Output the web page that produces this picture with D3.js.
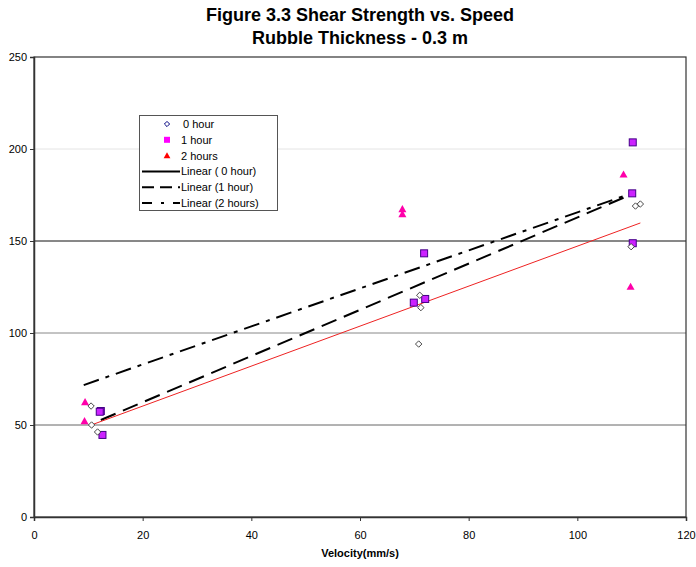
<!DOCTYPE html>
<html>
<head>
<meta charset="utf-8">
<script src="https://cdn.jsdelivr.net/npm/d3@7"></script>
<style>
  body { margin: 0; background: #fff; }
  text { font-family: "Liberation Sans", Arial, sans-serif; }
</style>
</head>
<body>
<svg id="chart"></svg>
<script>
// data
const hour0 = [[10.5, 60.3], [10.6, 50], [11.7, 46.2], [71.0, 120.5], [71.2, 113.8], [70.8, 94],
               [110.7, 169], [111.6, 170.1], [109.9, 146.9]];
const hour1 = [[12.3, 57.6], [12.1, 57.2], [12.6, 44.6], [71.8, 143.3], [69.9, 116.5], [72.0, 118.5],
               [110.2, 203.6], [110.1, 175.9], [110.2, 148.8]];
const hour2 = [[9.4, 62.5], [9.3, 52.2], [67.8, 167.4], [67.8, 164.7], [108.5, 186.2], [109.8, 125.2]];
// linear trend lines (end points)
const trend0 = [[11.0, 50.5], [111.6, 159.8]];
const trend1 = [[12.3, 52.7], [110.1, 175.5]];
const trend2 = [[9.15, 71.7], [110.1, 176.0]];
const xTicks = [0, 20, 40, 60, 80, 100, 120];
const yTicks = [0, 50, 100, 150, 200, 250];

const width = 696, height = 567;
const svg = d3.select("#chart").attr("width", width).attr("height", height);

const xScale = d3.scaleLinear().domain([0, 120]).range([34, 686]);
const yScale = d3.scaleLinear().domain([0, 250]).range([517, 57]);

// title
svg.append("text").attr("x", 360).attr("y", 21).attr("text-anchor", "middle")
    .style("font-size", "18px").style("font-weight", "bold").text("Figure 3.3 Shear Strength vs. Speed");
svg.append("text").attr("x", 360).attr("y", 44).attr("text-anchor", "middle")
    .style("font-size", "18px").style("font-weight", "bold").text("Rubble Thickness - 0.3 m");

// gridlines (colours as they appear in the scan)
const gridColor = { 50: "#666", 100: "#888", 150: "#111", 200: "#e4e4e4" };
svg.append("g").selectAll("line")
    .data(yTicks.filter(d => d > 0 && d < 250))
    .join("line")
    .attr("x1", xScale(0)).attr("x2", xScale(120))
    .attr("y1", d => yScale(d)).attr("y2", d => yScale(d))
    .attr("stroke", d => gridColor[d]).attr("stroke-width", 1);

// frame
svg.append("rect").attr("x", xScale(0)).attr("y", yScale(250))
    .attr("width", xScale(120) - xScale(0)).attr("height", yScale(0) - yScale(250))
    .attr("fill", "none").attr("stroke", "#333").attr("stroke-width", 1.2);

// axes
svg.append("g")
    .attr("transform", "translate(0," + yScale(0) + ")")
    .call(d3.axisBottom(xScale).tickValues(xTicks).tickSize(4).tickPadding(10))
    .call(g => g.select(".domain").attr("stroke", "#333").attr("stroke-width", 1.5))
    .call(g => g.selectAll("line").attr("stroke", "#333"))
    .selectAll("text").style("font-size", "11px").style("fill", "#000")
    .style("font-family", "'Liberation Sans', Arial, sans-serif");

svg.append("g")
    .attr("transform", "translate(" + xScale(0) + ",0)")
    .call(d3.axisLeft(yScale).tickValues(yTicks).tickSize(4).tickPadding(3))
    .call(g => g.select(".domain").attr("stroke", "#333").attr("stroke-width", 1.5))
    .call(g => g.selectAll("line").attr("stroke", "#333"))
    .selectAll("text").style("font-size", "11px").style("fill", "#000")
    .style("font-family", "'Liberation Sans', Arial, sans-serif");

svg.append("text").attr("x", 360).attr("y", 557).attr("text-anchor", "middle")
    .style("font-size", "11px").style("font-weight", "bold").text("Velocity(mm/s)");

// trend lines
const line = d3.line().x(d => xScale(d[0])).y(d => yScale(d[1]));
svg.append("path").datum(trend2).attr("d", line).attr("fill", "none")
    .attr("stroke", "#000").attr("stroke-width", 2).attr("stroke-dasharray", "16 7 4 7");
svg.append("path").datum(trend1).attr("d", line).attr("fill", "none")
    .attr("stroke", "#000").attr("stroke-width", 2).attr("stroke-dasharray", "16 8");
svg.append("path").datum(trend0).attr("d", line).attr("fill", "none")
    .attr("stroke", "#ee2222").attr("stroke-width", 1);

// markers
const diamond = s => `M0,${-s}L${s},0L0,${s}L${-s},0Z`;
const tri = s => `M0,${-s}L${s},${s * 0.8}L${-s},${s * 0.8}Z`;

svg.append("g").selectAll("path")
    .data(hour2).join("path")
    .attr("transform", d => `translate(${xScale(d[0])},${yScale(d[1])})`)
    .attr("d", tri(4)).attr("fill", "#ff00aa");

svg.append("g").selectAll("rect")
    .data(hour1).join("rect")
    .attr("x", d => xScale(d[0]) - 3.5).attr("y", d => yScale(d[1]) - 3.5)
    .attr("width", 7).attr("height", 7)
    .attr("fill", "#cc22ff").attr("stroke", "#440088").attr("stroke-width", 1);

svg.append("g").selectAll("path")
    .data(hour0).join("path")
    .attr("transform", d => `translate(${xScale(d[0])},${yScale(d[1])})`)
    .attr("d", diamond(3.2)).attr("fill", "#fff").attr("stroke", "#333").attr("stroke-width", 0.9);

// legend
const lg = svg.append("g");
lg.append("rect").attr("x", 139.5).attr("y", 115.5).attr("width", 138).attr("height", 95)
    .attr("fill", "#fff").attr("stroke", "#555").attr("stroke-width", 1);
const rowY = i => 124 + i * 15.8;
const labels = ["0 hour", "1 hour", "2 hours", "Linear ( 0 hour)", "Linear (1 hour)", "Linear (2 hours)"];
lg.append("path").attr("transform", `translate(167,${rowY(0)})`).attr("d", diamond(2.6))
    .attr("fill", "#fff").attr("stroke", "#000080").attr("stroke-width", 1);
lg.append("rect").attr("x", 164).attr("y", rowY(1) - 3).attr("width", 6).attr("height", 6).attr("fill", "#ff00ff");
lg.append("path").attr("transform", `translate(167,${rowY(2)})`).attr("d", tri(3.4)).attr("fill", "#ff0000");
const dashes = [null, "12 6", "10 9 3 9"];
dashes.forEach((d, i) => {
  lg.append("line").attr("x1", 142).attr("x2", 180).attr("y1", rowY(3 + i)).attr("y2", rowY(3 + i))
    .attr("stroke", "#000").attr("stroke-width", 2).attr("stroke-dasharray", d);
});
lg.selectAll("text.lab").data(labels).join("text").attr("class", "lab")
    .attr("x", (d, i) => i === 0 ? 183 : 181)
    .attr("y", (d, i) => rowY(i) + 4)
    .style("font-size", "11px").text(d => d);
</script>
</body>
</html>
